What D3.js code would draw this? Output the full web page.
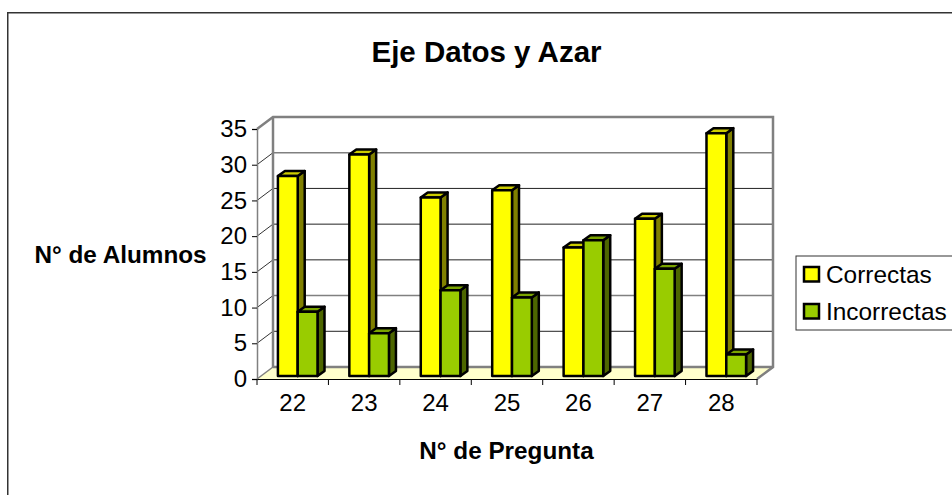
<!DOCTYPE html>
<html>
<head>
<meta charset="utf-8">
<script src="https://cdnjs.cloudflare.com/ajax/libs/d3/7.8.5/d3.min.js"></script>
<style>
html, body { margin: 0; padding: 0; background: #fff; overflow: hidden; }
svg { display: block; }
text { font-family: "Liberation Sans", Arial, sans-serif; fill: #000; }
</style>
</head>
<body>
<div id="chart"></div>
<script>
const preguntas = ["22", "23", "24", "25", "26", "27", "28"];
const correctas = [28, 31, 25, 26, 18, 22, 34];
const incorrectas = [9, 6, 12, 11, 19, 15, 3];
const serieNames = ["Correctas", "Incorrectas"];
const yTicks = [0, 5, 10, 15, 20, 25, 30, 35];

const width = 952, height = 495;
const plotLeft = 257, plotRight = 757, plotBottom = 379, plotTop = 129;
// depth of the fake 3d box and of the bars standing in it
const wallDx = 16, wallDy = 12;
const barDx = 7, barDy = 5;
const barShiftX = 5, barShiftY = 3;
const barWidth = 19.8;

const colors = {
	Correctas: { front: "#ffff00", top: "#cccc00", side: "#808000" },
	Incorrectas: { front: "#99cc00", top: "#7aa300", side: "#4d6600" }
};

const svg = d3.select("#chart").append("svg")
	.attr("width", width)
	.attr("height", height);

const xScale = d3.scaleBand().domain(preguntas).range([plotLeft, plotRight]);
const inner = d3.scaleBand().domain(serieNames).range([0, barWidth * 2]);
const yScale = d3.scaleLinear().domain([0, 35]).range([plotBottom, plotTop]);

// outer frame, only top and left are visible in the crop
svg.append("path")
	.attr("d", `M7.75,${height} V12.75 H${width}`)
	.attr("fill", "none")
	.attr("stroke", "#333")
	.attr("stroke-width", 1.5);

svg.append("text")
	.attr("x", 486.5)
	.attr("y", 62)
	.attr("text-anchor", "middle")
	.style("font-size", "29.5px")
	.style("font-weight", "bold")
	.text("Eje Datos y Azar");

// floor
svg.append("polygon")
	.attr("points", [[plotLeft, plotBottom], [plotLeft + wallDx, plotBottom - wallDy], [plotRight + wallDx, plotBottom - wallDy], [plotRight, plotBottom]].join(" "))
	.attr("fill", "#ffffcc");

// grid on back wall and side wall
const grid = svg.append("g");
grid.selectAll("line.back")
	.data(yTicks.filter(d => d > 0 && d < 35))
	.enter()
	.append("line")
	.attr("class", "back")
	.attr("x1", plotLeft + wallDx)
	.attr("x2", plotRight + wallDx)
	.attr("y1", d => yScale(d) - wallDy)
	.attr("y2", d => yScale(d) - wallDy)
	.attr("stroke", d => (d == 30 || d == 10) ? "#808080" : "#222")
	.attr("stroke-width", d => (d == 30 || d == 10) ? 1.5 : 1);

grid.selectAll("line.side")
	.data(yTicks.filter(d => d > 0 && d < 35))
	.enter()
	.append("line")
	.attr("class", "side")
	.attr("x1", plotLeft)
	.attr("x2", plotLeft + wallDx)
	.attr("y1", d => yScale(d))
	.attr("y2", d => yScale(d) - wallDy)
	.attr("stroke", "#333")
	.attr("stroke-width", 1);

// box outline in grey
svg.append("path")
	.attr("d", `M${plotLeft},${plotTop} L${plotLeft + wallDx},${plotTop - wallDy} H${plotRight + wallDx} V${plotBottom - wallDy} L${plotRight},${plotBottom}`)
	.attr("fill", "none")
	.attr("stroke", "#808080")
	.attr("stroke-width", 2.5);
svg.append("line")
	.attr("x1", plotLeft + wallDx).attr("x2", plotLeft + wallDx)
	.attr("y1", plotTop - wallDy).attr("y2", plotBottom - wallDy)
	.attr("stroke", "#808080").attr("stroke-width", 2.5);
svg.append("line")
	.attr("x1", plotLeft + wallDx).attr("x2", plotRight + wallDx)
	.attr("y1", plotBottom - wallDy).attr("y2", plotBottom - wallDy)
	.attr("stroke", "#808080").attr("stroke-width", 2.5);
svg.append("line")
	.attr("x1", plotLeft).attr("x2", plotLeft + wallDx)
	.attr("y1", plotBottom).attr("y2", plotBottom - wallDy)
	.attr("stroke", "#808080").attr("stroke-width", 1.5);

// bars
const rows = preguntas.map((p, i) => ({ p: p, Correctas: correctas[i], Incorrectas: incorrectas[i] }));
const groups = svg.selectAll("g.pregunta")
	.data(rows)
	.enter()
	.append("g")
	.attr("class", "pregunta")
	.attr("transform", d => `translate(${xScale(d.p) + (xScale.bandwidth() - barWidth * 2) / 2 + barShiftX},0)`);

const bars = groups.selectAll("g.bar")
	.data(d => serieNames.map(s => ({ s: s, v: d[s] })))
	.enter()
	.append("g")
	.attr("class", "bar")
	.attr("stroke", "#000")
	.attr("stroke-width", 2.5)
	.attr("stroke-linejoin", "round");

bars.append("polygon")
	.attr("fill", d => colors[d.s].side)
	.attr("points", d => {
		const x = inner(d.s) + inner.bandwidth(), y0 = plotBottom - barShiftY, y1 = yScale(d.v) - barShiftY;
		return [[x, y0], [x, y1], [x + barDx, y1 - barDy], [x + barDx, y0 - barDy]].join(" ");
	});
bars.append("polygon")
	.attr("fill", d => colors[d.s].top)
	.attr("points", d => {
		const x = inner(d.s), w = inner.bandwidth(), y1 = yScale(d.v) - barShiftY;
		return [[x, y1], [x + barDx, y1 - barDy], [x + w + barDx, y1 - barDy], [x + w, y1]].join(" ");
	});
bars.append("rect")
	.attr("fill", d => colors[d.s].front)
	.attr("x", d => inner(d.s))
	.attr("y", d => yScale(d.v) - barShiftY)
	.attr("width", inner.bandwidth())
	.attr("height", d => plotBottom - yScale(d.v));

// axes
const yAxis = d3.axisLeft(yScale).tickValues(yTicks).tickSize(5).tickPadding(5);
const yG = svg.append("g")
	.attr("transform", `translate(${plotLeft},0)`)
	.call(yAxis);
yG.select(".domain").attr("stroke", "#808080").attr("stroke-width", 1.5);
yG.selectAll("text").style("font-size", "24px");
yG.attr("font-family", null);

const xAxis = d3.axisBottom(xScale).tickSize(0).tickPadding(15);
const xG = svg.append("g")
	.attr("transform", `translate(0,${plotBottom})`)
	.call(xAxis);
xG.select(".domain").attr("stroke", "#000").attr("stroke-width", 1);
xG.selectAll("text").style("font-size", "24px");
xG.attr("font-family", null);

// ticks of the x axis sit between the categories
svg.selectAll("line.xtick")
	.data(preguntas.concat("end"))
	.enter()
	.append("line")
	.attr("class", "xtick")
	.attr("x1", d => d == "end" ? plotRight : xScale(d))
	.attr("x2", d => d == "end" ? plotRight : xScale(d))
	.attr("y1", plotBottom)
	.attr("y2", plotBottom + 6)
	.attr("stroke", "#000");

svg.append("text")
	.attr("x", 120.5)
	.attr("y", 263)
	.attr("text-anchor", "middle")
	.style("font-size", "24.3px")
	.style("font-weight", "bold")
	.text("N° de Alumnos");

svg.append("text")
	.attr("x", 506.5)
	.attr("y", 459)
	.attr("text-anchor", "middle")
	.style("font-size", "24.3px")
	.style("font-weight", "bold")
	.text("N° de Pregunta");

// legend, runs off the right edge like the original
const legend = svg.append("g");
legend.append("rect")
	.attr("x", 796)
	.attr("y", 256)
	.attr("width", 170)
	.attr("height", 74)
	.attr("fill", "#fff")
	.attr("stroke", "#333")
	.attr("stroke-width", 1);
legend.selectAll("rect.swatch")
	.data(serieNames)
	.enter()
	.append("rect")
	.attr("class", "swatch")
	.attr("x", 804)
	.attr("y", (d, i) => 267 + i * 37)
	.attr("width", 15)
	.attr("height", 14.5)
	.attr("fill", d => colors[d].front)
	.attr("stroke", "#000")
	.attr("stroke-width", 2.5);
legend.selectAll("text")
	.data(serieNames)
	.enter()
	.append("text")
	.attr("x", 826)
	.attr("y", (d, i) => 283 + i * 37)
	.style("font-size", "24.4px")
	.text(d => d);
</script>
</body>
</html>
